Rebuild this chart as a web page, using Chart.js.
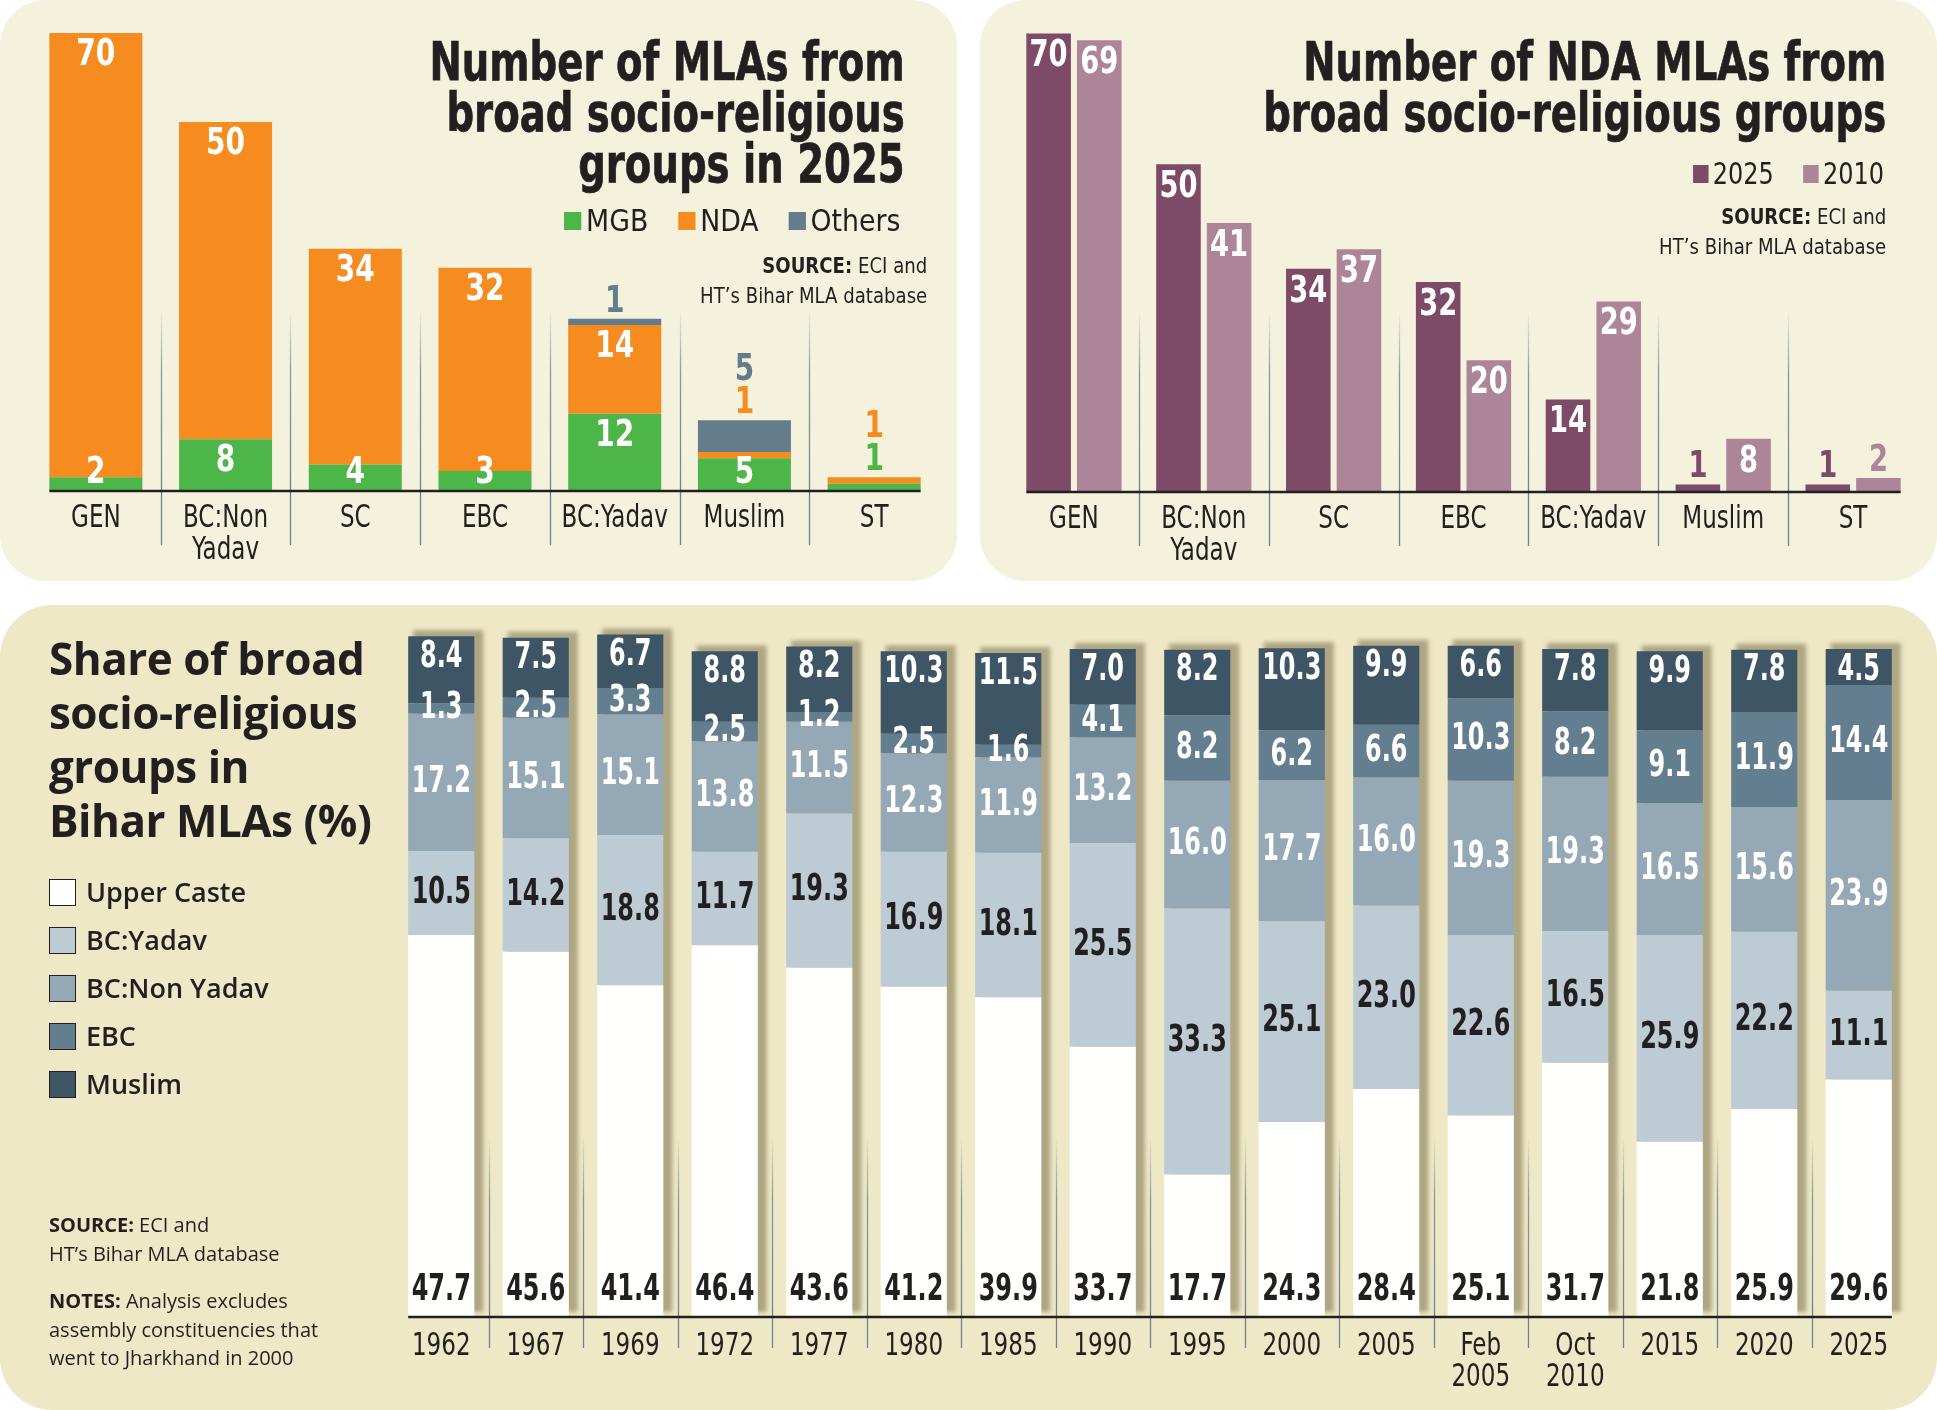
<!DOCTYPE html>
<html>
<head>
<meta charset="utf-8">
<script src="https://cdn.jsdelivr.net/npm/chart.js@4.4.0/dist/chart.umd.min.js"></script>
<style>
  body { margin: 0; width: 1937px; height: 1410px; background: #fff; position: relative; overflow: hidden;
         font-family: 'Liberation Sans Narrow', 'DejaVu Sans Condensed', sans-serif; color: #231f20; }
  .panel { position: absolute; background: #f4f1dd; border-radius: 46px; overflow: hidden; }
  #p1 { left: 0; top: 0; width: 957px; height: 581px; }
  #p2 { left: 980px; top: 0; width: 957px; height: 581px; }
  #p3 { left: 0; top: 605px; width: 1937px; height: 805px; background: #efe8c6; border-radius: 52px; }
  canvas { position: absolute; left: 0; top: 0; }
  .sq { position: absolute; text-align: right; white-space: nowrap; }
  .sq > div { display: inline-block; transform-origin: right top; }
  .title { font-weight: bold; font-size: 53px; line-height: 51px; -webkit-text-stroke: 0.7px #231f20; }
  .title > div { transform: scaleX(0.81); }
  .legend { font-size: 31px; line-height: 32px; }
  .legend > div { transform: scaleX(0.86); }
  #lg1 > div { transform: scaleX(0.96); }
  .legend span { display: inline-block; margin-left: 34px; }
  #lg1 span { margin-left: 31px; }
  .legend i { display: inline-block; width: 18px; height: 18px; margin-right: 5px; vertical-align: 1px; }
  .source { font-size: 22px; line-height: 30px; }
  .source > div { transform: scaleX(0.915); }
  .left { font-family: 'Open Sans', sans-serif; }
  #t3 { position: absolute; left: 49px; top: 26px; font-weight: bold; font-size: 44px; line-height: 54px; letter-spacing: -0.5px; }
  #lg3 { position: absolute; left: 49px; top: 263px; font-weight: 600; font-size: 27px; }
  #lg3 div { height: 48px; line-height: 48px; white-space: nowrap; }
  #lg3 i { display: inline-block; width: 25px; height: 25px; border: 1.5px solid #231f20; margin-right: 10px; vertical-align: -4px; }
  .note { position: absolute; left: 49px; font-size: 20px; line-height: 28.5px; }
</style>
</head>
<body>
<div class="panel" id="p1">
  <canvas id="c1" width="957" height="581"></canvas>
  <div class="sq title" style="right:52px;top:36px"><div>Number of MLAs from<br>broad socio-religious<br>groups in 2025</div></div>
  <div class="sq legend" id="lg1" style="right:57px;top:204px"><div>
    <span><i style="background:#4cb648"></i>MGB</span><span><i style="background:#f68c1f"></i>NDA</span><span><i style="background:#647c8b"></i>Others</span>
  </div></div>
  <div class="sq source" style="right:30px;top:251px"><div><b>SOURCE:</b> ECI and<br>HT’s Bihar MLA database</div></div>
</div>
<div class="panel" id="p2">
  <canvas id="c2" width="957" height="581"></canvas>
  <div class="sq title" style="right:51px;top:36px"><div>Number of NDA MLAs from<br>broad socio-religious groups</div></div>
  <div class="sq legend" style="right:53px;top:157px"><div>
    <span><i style="background:#7d4a68"></i>2025</span><span><i style="background:#ad8599"></i>2010</span>
  </div></div>
  <div class="sq source" style="right:51px;top:202px"><div><b>SOURCE:</b> ECI and<br>HT’s Bihar MLA database</div></div>
</div>
<div class="panel" id="p3">
  <canvas id="c3" width="1937" height="805"></canvas>
  <div id="t3" class="left">Share of broad<br>socio-religious<br>groups in<br>Bihar MLAs (%)</div>
  <div id="lg3" class="left">
    <div><i style="background:#fffffd"></i>Upper Caste</div>
    <div><i style="background:#bccbd4"></i>BC:Yadav</div>
    <div><i style="background:#94a8b5"></i>BC:Non Yadav</div>
    <div><i style="background:#637e8e"></i>EBC</div>
    <div><i style="background:#3e5566"></i>Muslim</div>
  </div>
  <div class="note left" style="top:606px"><b>SOURCE:</b> ECI and<br>HT’s Bihar MLA database</div>
  <div class="note left" style="top:682px"><b>NOTES:</b> Analysis excludes<br>assembly constituencies that<br>went to Jharkhand in 2000</div>
</div>

<script>
// ---------- data ----------
const groups = ['GEN', ['BC:Non', 'Yadav'], 'SC', 'EBC', 'BC:Yadav', 'Muslim', 'ST'];

// chart 1: MLAs by alliance, 2025
const mgb2025 = [2, 8, 4, 3, 12, 5, 1];
const nda2025 = [70, 50, 34, 32, 14, 1, 1];
const others2025 = [0, 0, 0, 0, 1, 5, 0];

// chart 2: NDA MLAs, 2025 vs 2010
const ndaMla2025 = [70, 50, 34, 32, 14, 1, 1];
const ndaMla2010 = [69, 41, 37, 20, 29, 8, 2];

// chart 3: share (%) by election
const elections = ['1962', '1967', '1969', '1972', '1977', '1980', '1985', '1990', '1995', '2000', '2005',
                   ['Feb', '2005'], ['Oct', '2010'], '2015', '2020', '2025'];
const upperCaste = [47.7, 45.6, 41.4, 46.4, 43.6, 41.2, 39.9, 33.7, 17.7, 24.3, 28.4, 25.1, 31.7, 21.8, 25.9, 29.6];
const bcYadav    = [10.5, 14.2, 18.8, 11.7, 19.3, 16.9, 18.1, 25.5, 33.3, 25.1, 23.0, 22.6, 16.5, 25.9, 22.2, 11.1];
const bcNonYadav = [17.2, 15.1, 15.1, 13.8, 11.5, 12.3, 11.9, 13.2, 16.0, 17.7, 16.0, 19.3, 19.3, 16.5, 15.6, 23.9];
const ebc        = [1.3, 2.5, 3.3, 2.5, 1.2, 2.5, 1.6, 4.1, 8.2, 6.2, 6.6, 10.3, 8.2, 9.1, 11.9, 14.4];
const muslim     = [8.4, 7.5, 6.7, 8.8, 8.2, 10.3, 11.5, 7.0, 8.2, 10.3, 9.9, 6.6, 7.8, 9.9, 7.8, 4.5];

const COND = "'Liberation Sans Narrow', 'DejaVu Sans Condensed', sans-serif";
const INK = '#231f20';
Chart.defaults.font.family = COND;
Chart.defaults.animation = false;

// squeezed text, the reference uses a condensed face
function squeezed(ctx, s, x, y, sx) {
  ctx.save();
  ctx.translate(x, y);
  ctx.scale(sx, 1);
  ctx.fillText(s, 0, 0);
  ctx.restore();
}

// separators between categories, base line under the bars, category names
const axisDecor = {
  id: 'axisDecor',
  afterDatasetsDraw(chart, args, opts) {
    const ctx = chart.ctx, x = chart.scales.x;
    const base = chart.chartArea.bottom;
    const n = chart.data.labels.length;
    ctx.save();
    for (let i = 0; i < n - 1; i++) {
      const px = Math.round((x.getPixelForValue(i) + x.getPixelForValue(i + 1)) / 2) + 0.5;
      const g = ctx.createLinearGradient(0, base - opts.up, 0, base);
      g.addColorStop(0, 'rgba(110,130,145,0)');
      g.addColorStop(0.35, 'rgba(110,130,145,0.8)');
      g.addColorStop(1, 'rgba(110,130,145,1)');
      ctx.strokeStyle = g;
      ctx.lineWidth = 1.3;
      ctx.beginPath();
      ctx.moveTo(px, base - opts.up);
      ctx.lineTo(px, base);
      ctx.stroke();
      ctx.strokeStyle = 'rgba(110,130,145,1)';
      ctx.beginPath();
      ctx.moveTo(px, base);
      ctx.lineTo(px, base + opts.down);
      ctx.stroke();
    }
    const metas = chart.getSortedVisibleDatasetMetas();
    let l = Infinity, r = -Infinity;
    metas.forEach(m => m.data.forEach(el => {
      l = Math.min(l, el.x - el.width / 2);
      r = Math.max(r, el.x + el.width / 2);
    }));
    ctx.strokeStyle = INK;
    ctx.lineWidth = 2.5;
    ctx.beginPath();
    ctx.moveTo(l, base + 1);
    ctx.lineTo(r, base + 1);
    ctx.stroke();

    ctx.font = opts.size + 'px ' + COND;
    ctx.fillStyle = INK;
    ctx.textAlign = 'center';
    ctx.textBaseline = 'middle';
    chart.data.labels.forEach((lab, i) => {
      [].concat(lab).forEach((line, j) => {
        squeezed(ctx, line, x.getPixelForValue(i), base + opts.first + j * opts.lh, opts.sx);
      });
    });
    ctx.restore();
  }
};

function xAxis(h) {
  return {
    grid: { display: false, drawTicks: false },
    border: { display: false },
    ticks: { display: false },
    afterFit(s) { s.height = h; }
  };
}

// ---------- chart 1 ----------
const stackLabels = {
  id: 'stackLabels',
  afterDatasetsDraw(chart) {
    const ctx = chart.ctx;
    ctx.save();
    ctx.font = 'bold 38px ' + COND;
    ctx.textAlign = 'center';
    ctx.textBaseline = 'middle';
    chart.data.labels.forEach((lab, i) => {
      let top = Infinity, k = 0;
      chart.data.datasets.forEach((ds, d) => {
        if (ds.data[i] > 0) top = Math.min(top, chart.getDatasetMeta(d).data[i].y);
      });
      chart.data.datasets.forEach((ds, d) => {
        const v = ds.data[i];
        if (!v) return;
        const el = chart.getDatasetMeta(d).data[i];
        if (ds.label === 'Others' || v < 2) {
          ctx.fillStyle = ds.backgroundColor;
          squeezed(ctx, v, el.x, top - 17 - k * 33, 0.82);
          k++;
        } else {
          ctx.fillStyle = '#fff';
          squeezed(ctx, v, el.x, Math.min(el.y + 22, el.base - 17), 0.82);
        }
      });
    });
    ctx.restore();
  }
};

new Chart(document.getElementById('c1'), {
  type: 'bar',
  data: {
    labels: groups,
    datasets: [
      { label: 'MGB', data: mgb2025, backgroundColor: '#4cb648' },
      { label: 'NDA', data: nda2025, backgroundColor: '#f68c1f' },
      { label: 'Others', data: others2025, backgroundColor: '#647c8b' }
    ]
  },
  options: {
    responsive: false,
    layout: { padding: { left: 31, right: 18, top: 14, bottom: 0 } },
    datasets: { bar: { categoryPercentage: 1, barPercentage: 0.717 } },
    plugins: { legend: { display: false }, tooltip: { enabled: false },
               axisDecor: { up: 180, down: 55, size: 32, sx: 0.8, first: 29, lh: 32 } },
    scales: {
      x: Object.assign(xAxis(91), { stacked: true }),
      y: { stacked: true, display: false, min: 0, max: 75 }
    }
  },
  plugins: [axisDecor, stackLabels]
});

// ---------- chart 2 ----------
const pairLabels = {
  id: 'pairLabels',
  afterDatasetsDraw(chart) {
    const ctx = chart.ctx;
    ctx.save();
    ctx.font = 'bold 38px ' + COND;
    ctx.textAlign = 'center';
    ctx.textBaseline = 'middle';
    chart.data.datasets.forEach((ds, d) => {
      chart.getDatasetMeta(d).data.forEach((el, i) => {
        const v = ds.data[i];
        if (el.base - el.y > 40) {
          ctx.fillStyle = '#fff';
          squeezed(ctx, v, el.x, el.y + 23, 0.8);
        } else {
          ctx.fillStyle = ds.backgroundColor;
          squeezed(ctx, v, el.x, el.y - 17, 0.8);
        }
      });
    });
    ctx.restore();
  }
};

new Chart(document.getElementById('c2'), {
  type: 'bar',
  data: {
    labels: groups,
    datasets: [
      { label: '2025', data: ndaMla2025, backgroundColor: '#7d4a68' },
      { label: '2010', data: ndaMla2010, backgroundColor: '#ad8599' }
    ]
  },
  options: {
    responsive: false,
    layout: { padding: { left: 29, right: 19, top: 14, bottom: 0 } },
    datasets: { bar: { categoryPercentage: 0.78, barPercentage: 0.88 } },
    plugins: { legend: { display: false }, tooltip: { enabled: false },
               axisDecor: { up: 180, down: 55, size: 32, sx: 0.8, first: 29, lh: 32 } },
    scales: {
      x: xAxis(90),
      y: { display: false, min: 0, max: 73 }
    }
  },
  plugins: [axisDecor, pairLabels]
});

// ---------- chart 3 ----------
const barShadow = {
  id: 'barShadow',
  beforeDatasetsDraw(chart) {
    const ctx = chart.ctx;
    const topMeta = chart.getDatasetMeta(chart.data.datasets.length - 1);
    const base = chart.chartArea.bottom;
    ctx.save();
    ctx.filter = 'blur(2px)';
    ctx.fillStyle = 'rgba(140,130,95,0.65)';
    topMeta.data.forEach(el => {
      ctx.fillRect(el.x - el.width / 2 + 5, el.y - 6, el.width + 4, base - el.y + 2);
    });
    ctx.restore();
  }
};

const shareLabels = {
  id: 'shareLabels',
  afterDatasetsDraw(chart) {
    const ctx = chart.ctx;
    ctx.save();
    ctx.font = 'bold 37px ' + COND;
    ctx.textAlign = 'center';
    ctx.textBaseline = 'middle';
    chart.data.labels.forEach((lab, i) => {
      const els = chart.data.datasets.map((ds, d) => chart.getDatasetMeta(d).data[i]);
      const mid = el => (el.y + el.base) / 2;
      const muslimY = els[4].y + 21;
      const spots = [
        [els[0].base - 26, INK],
        [mid(els[1]), INK],
        [mid(els[2]), '#fff'],
        [Math.max(mid(els[3]), muslimY + 27), '#fff'],
        [muslimY, '#fff']
      ];
      chart.data.datasets.forEach((ds, d) => {
        ctx.fillStyle = spots[d][1];
        squeezed(ctx, ds.data[i].toFixed(1), els[d].x, spots[d][0], 0.72);
      });
    });
    ctx.restore();
  }
};

new Chart(document.getElementById('c3'), {
  type: 'bar',
  data: {
    labels: elections,
    datasets: [
      { label: 'Upper Caste', data: upperCaste, backgroundColor: '#fffffd' },
      { label: 'BC:Yadav', data: bcYadav, backgroundColor: '#bccbd4' },
      { label: 'BC:Non Yadav', data: bcNonYadav, backgroundColor: '#94a8b5' },
      { label: 'EBC', data: ebc, backgroundColor: '#637e8e' },
      { label: 'Muslim', data: muslim, backgroundColor: '#3e5566' }
    ]
  },
  options: {
    responsive: false,
    layout: { padding: { left: 394, right: 31, top: 8, bottom: 0 } },
    datasets: { bar: { categoryPercentage: 1, barPercentage: 0.70 } },
    plugins: { legend: { display: false }, tooltip: { enabled: false },
               axisDecor: { up: 180, down: 32, size: 32, sx: 0.8, first: 31, lh: 31 } },
    scales: {
      x: Object.assign(xAxis(94), { stacked: true }),
      y: { stacked: true, display: false, min: 0, max: 88 }
    }
  },
  plugins: [barShadow, axisDecor, shareLabels]
});
</script>
</body>
</html>
